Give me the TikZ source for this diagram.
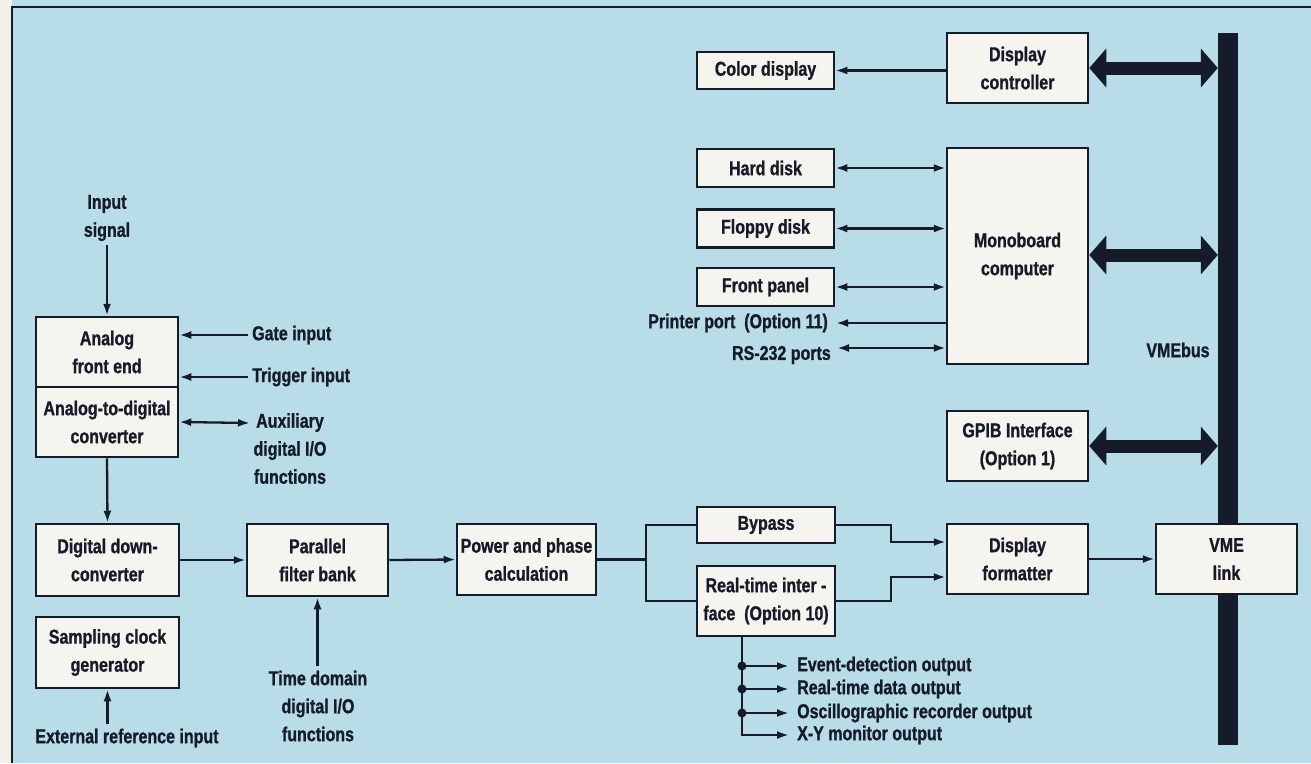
\documentclass[tikz,border=0pt]{standalone}
\usepackage{fontspec}
\setmainfont[FakeStretch=0.8, BoldFeatures={FakeBold=1}]{Liberation Sans}
\usetikzlibrary{arrows.meta}
\definecolor{bg}{HTML}{B9DCE9}
\definecolor{paper}{HTML}{F2F0E8}
\definecolor{boxfill}{HTML}{F6F4EE}
\definecolor{ink}{HTML}{151B28}
\begin{document}
\begin{tikzpicture}[x=1pt,y=-1pt,
  font=\fontsize{20}{28}\selectfont\bfseries,
  every node/.style={text=ink},
  blk/.style={draw=ink, fill=boxfill, line width=2.5pt, align=center, inner sep=0pt},
  lbl/.style={align=center, inner sep=0pt},
  conn/.style={draw=ink, line width=2.3pt},
  arr/.style={conn, -{Latex[length=12pt,width=8pt]}},
  darr/.style={conn, {Latex[length=12pt,width=8pt]}-{Latex[length=12pt,width=8pt]}},
  busarr/.style={draw=ink, line width=13pt, {Triangle[length=17pt,width=38pt]}-{Triangle[length=17pt,width=38pt]}},
]
\useasboundingbox (0,0) rectangle (1311,763);
\fill[paper] (0,0) rectangle (1311,763);
\fill[bg] (12,0) rectangle (1311,763);
\draw[ink, line width=2.5pt] (12,763) -- (12,7) -- (1311,7);

% VME bus
\node[fill=ink, inner sep=0pt, minimum width=20pt, minimum height=712pt] (bus) at (1228,389) {};
\node[lbl] (vmebus) at (1178,350) {VMEbus};

% boxes
\node[blk, minimum width=137pt, minimum height=37pt] (cdisp) at (765.5,70.5) {Color display};
\node[blk, minimum width=141pt, minimum height=70pt] (dctrl) at (1017.5,68) {Display\\controller};
\node[blk, minimum width=137pt, minimum height=38pt] (hdisk) at (765.5,168) {Hard disk};
\node[blk, minimum width=137pt, minimum height=38pt] (floppy) at (765.5,228.5) {Floppy disk};
\node[blk, minimum width=137pt, minimum height=38pt] (fpanel) at (765.5,287) {Front panel};
\node[blk, minimum width=141pt, minimum height=216pt] (mono) at (1017.5,256) {Monoboard\\computer};
\node[blk, minimum width=141pt, minimum height=70pt] (gpib) at (1017.5,446) {GPIB Interface\\(Option 1)};
\node[blk, minimum width=141pt, minimum height=70pt] (vlink) at (1226.5,559) {VME\\link};
\node[blk, minimum width=141pt, minimum height=70pt] (dfmt) at (1017.5,559) {Display\\formatter};
\node[blk, minimum width=138pt, minimum height=36pt] (bypass) at (766,525) {Bypass};
\node[blk, minimum width=138pt, minimum height=70pt] (rti) at (766,601) {Real-time inter -\\face\ \ (Option 10)};
\node[blk, minimum width=139pt, minimum height=71pt] (power) at (526.5,559.5) {Power and phase\\calculation};
\node[blk, minimum width=141pt, minimum height=72pt] (pfb) at (317.5,560) {Parallel\\filter bank};
\node[blk, minimum width=143pt, minimum height=72pt] (ddc) at (107.5,560) {Digital down-\\converter};
\node[blk, minimum width=143pt, minimum height=71pt] (scg) at (107.5,652.5) {Sampling clock\\generator};
\node[blk, minimum width=142pt, minimum height=70pt] (afe) at (107,352) {Analog\\front end};
\node[blk, minimum width=142pt, minimum height=70pt] (adc) at (107,422) {Analog-to-digital\\converter};

% labels
\node[lbl] (insig) at (107,218) {Input\\signal};
\node[lbl, anchor=west] (gate) at (252,335) {Gate input};
\node[lbl, anchor=west] (trig) at (252,377) {Trigger input};
\node[lbl, anchor=north] (aux) at (290,413) {Auxiliary\\digital I/O\\functions};
\coordinate (auxpt) at (250,423);
\node[lbl] (ext) at (127,738) {External reference input};
\node[lbl] (tdom) at (318,706) {Time domain\\digital I/O\\functions};
\node[lbl, anchor=east] (prn) at (828,323) {Printer port\ \ (Option 11)};
\node[lbl, anchor=east] (rs) at (831,355) {RS-232 ports};
\coordinate (rsa) at (837,348);
\node[lbl, anchor=west] (o1) at (797,666) {Event-detection output};
\node[lbl, anchor=west] (o2) at (797,689) {Real-time data output};
\node[lbl, anchor=west] (o3) at (797,713) {Oscillographic recorder output};
\node[lbl, anchor=west] (o4) at (797,735) {X-Y monitor output};

% left chain
\draw[arr] ([yshift=-4pt]insig.south) -- (afe.north);
\draw[arr] ([xshift=-4pt]gate.west) -- (afe.east |- gate.west);
\draw[arr] ([xshift=-4pt]trig.west) -- (afe.east |- trig.west);
\draw[darr] (adc.east) -- (auxpt);
\draw[arr] (adc.south) -- (ddc.north);
\draw[arr] ([yshift=4pt]ext.north -| scg.south) -- (scg.south);
\draw[arr] (ddc.east) -- (pfb.west);
\draw[arr] ([yshift=4pt]pfb.south |- tdom.north) -- (pfb.south);
\draw[arr] (pfb.east) -- (power.west);

% split
\coordinate (split) at (646,559.5);
\draw[conn] (power.east) -- (split);
\draw[conn] (bypass.west) -| (split) |- (rti.west);
\coordinate (jx) at (891,0);
\draw[arr] (bypass.east) -- (bypass.east -| jx) |- ([yshift=17pt]dfmt.west);
\draw[arr] (rti.east) -- (rti.east -| jx) |- ([yshift=-18pt]dfmt.west);
\draw[arr] (dfmt.east) -- (vlink.west);

% outputs
\coordinate (bx) at ([xshift=-24pt]rti.south);
\draw[arr] (bx) |- ([xshift=-8pt]o4.west);
\foreach \o in {o1,o2,o3}{
  \draw[arr] (bx |- \o.west) -- ([xshift=-8pt]\o.west);
  \fill[ink] (bx |- \o.west) circle (4.5pt);
}

% peripherals
\draw[arr] (dctrl.west |- cdisp.east) -- (cdisp.east);
\draw[darr] (hdisk.east) -- (mono.west |- hdisk.east);
\draw[darr] (floppy.east) -- (mono.west |- floppy.east);
\draw[darr] (fpanel.east) -- (mono.west |- fpanel.east);
\draw[arr] (mono.west |- prn.east) -- ([xshift=8pt]prn.east);
\draw[darr] (rsa) -- (mono.west |- rsa);

% bus connections
\draw[busarr] (dctrl.east) -- (dctrl.east -| bus.west);
\draw[busarr] ([yshift=1pt]mono.east) -- ([yshift=1pt]mono.east -| bus.west);
\draw[busarr] (gpib.east) -- (gpib.east -| bus.west);
\end{tikzpicture}
\end{document}
